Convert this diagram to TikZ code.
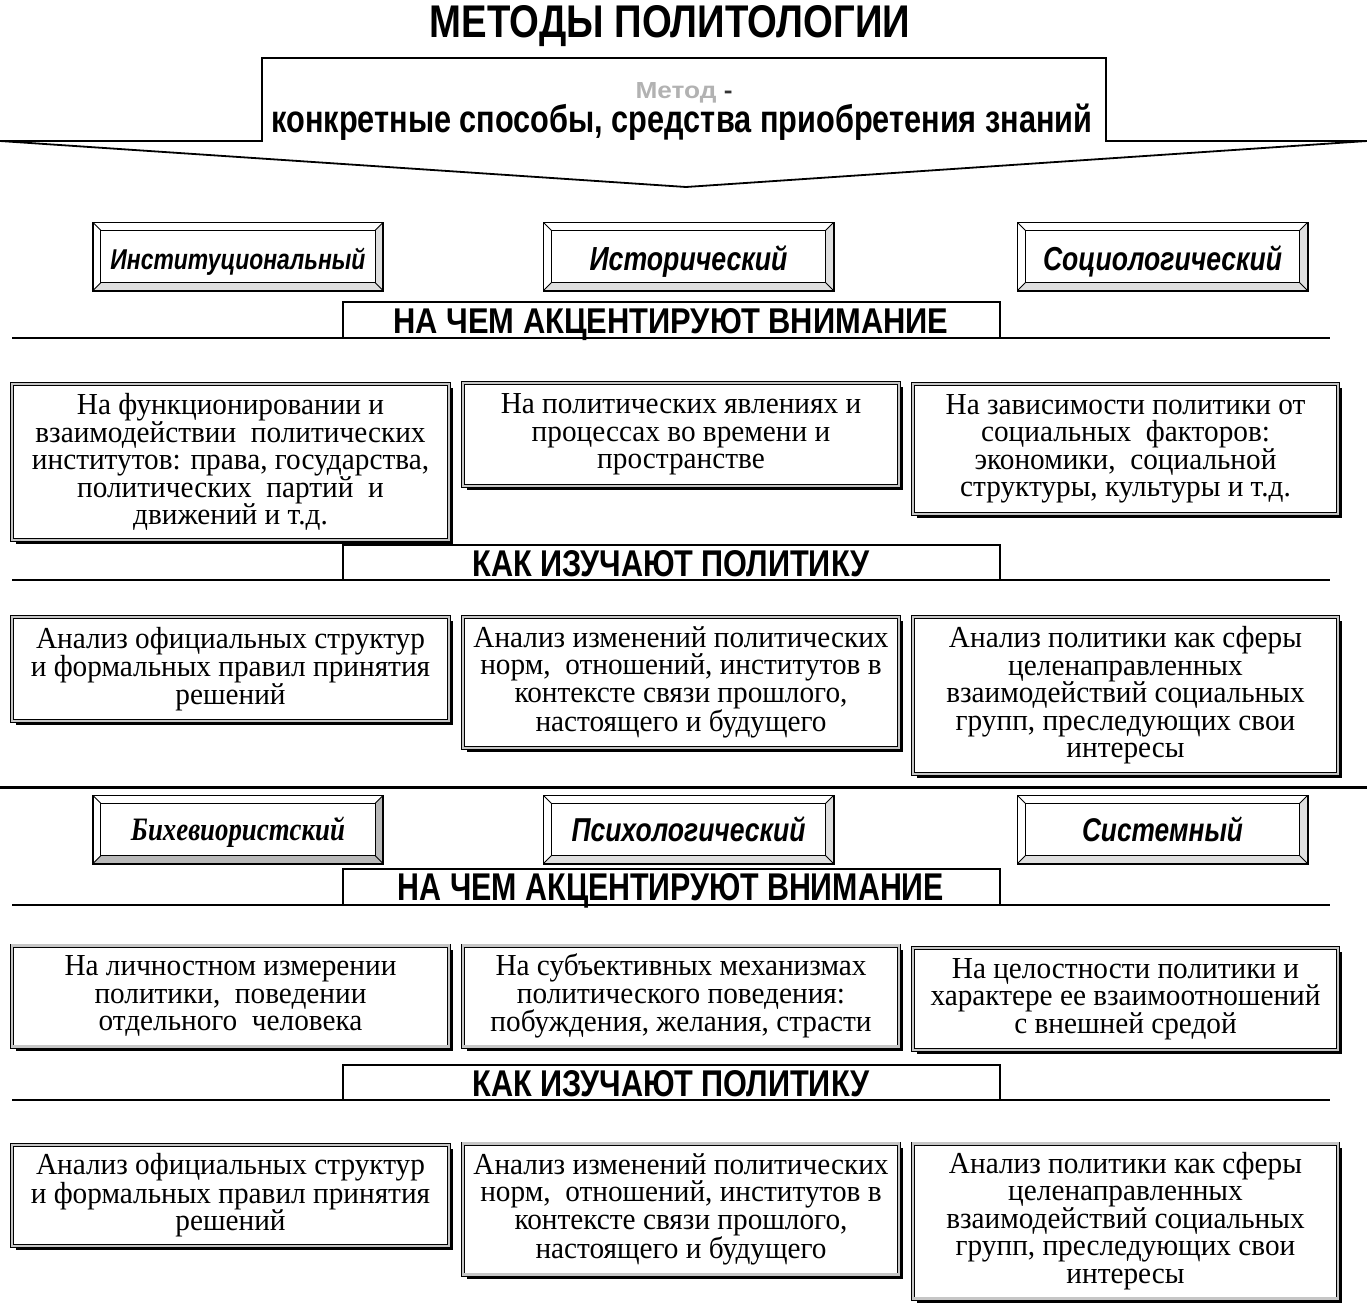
\documentclass[tikz,border=0pt]{standalone}
\usepackage{fontspec}
\usepackage{graphicx}
\setmainfont[FakeStretch=0.96]{Liberation Serif}
\newfontfamily\hfont[FakeStretch=0.8]{Liberation Sans}
\newfontfamily\snfont[FakeStretch=0.82]{Liberation Serif}
\usetikzlibrary{calc}
\newcommand\fitwh[3]{\resizebox{#1pt}{#2pt}{#3}}
\newcommand\fitw[2]{\resizebox{#1pt}{!}{#2}}
\newcommand\bevelbox[2]{%
  \coordinate (#1-a) at (#1.north west);
  \coordinate (#1-b) at (#1.north east);
  \coordinate (#1-c) at (#1.south east);
  \coordinate (#1-d) at (#1.south west);
  \coordinate (#1-ia) at ($(#1-a)+(8,8)$);
  \coordinate (#1-ib) at ($(#1-b)+(-8,8)$);
  \coordinate (#1-ic) at ($(#1-c)+(-8,-8)$);
  \coordinate (#1-id) at ($(#1-d)+(8,-8)$);
  \fill[#2] (#1-b) -- (#1-ib) -- (#1-ic) -- (#1-c) -- cycle;
  \fill[#2] (#1-d) -- (#1-id) -- (#1-ic) -- (#1-c) -- cycle;
  \draw[line width=1pt] (#1-ia) rectangle (#1-ic);
  \draw[line width=0.8pt] (#1-a) -- (#1-ia) (#1-b) -- (#1-ib) (#1-c) -- (#1-ic) (#1-d) -- (#1-id);
  \draw[line width=1.6pt] (#1-a) rectangle (#1-c);
}
\newcommand\bandtab[2]{%
  \draw[line width=1.3pt] (343,#2) -- (343,#1) -- (1000,#1) -- (1000,#2);
  \draw[line width=1.8pt] (12,#2) -- (1330,#2);
}
\tikzset{
  lbl/.style={inner sep=0pt},
  tbox/.style={draw, line width=0.9pt, double=gray!45, double distance=2.2pt,
    fill=white, inner sep=0pt, align=center,
    font=\fontsize{30.5}{27.5}\selectfont,
    preaction={fill=black, transform canvas={xshift=4pt, yshift=-4pt}}},
  mbox/.style={minimum width=290pt, minimum height=68pt, inner sep=0pt, fill=white},
}
\begin{document}
\begin{tikzpicture}[x=1pt,y=-1pt]
\useasboundingbox (0,0) rectangle (1367,1306);
% title
\node[lbl, anchor=base] (title) at (670,38) {\fitwh{480}{32}{\hfont\bfseries МЕТОДЫ ПОЛИТОЛОГИИ}};
% big arrow
\draw[line width=1.8pt, fill=white] (262,58) -- (1106,58) -- (1106,141) -- (1367,141) -- (686,187) -- (0,141) -- (262,141) -- cycle;
\node[lbl, anchor=base] (metod) at (684,98) {\fitwh{97}{16}{\hfont\bfseries\textcolor{gray!60}{Метод} \textcolor{gray!40!black}{-}}};
\node[lbl, anchor=base] (def) at (682,132) {\fitw{821}{\hfont\bfseries конкретные способы, средства приобретения знаний}};
% method boxes row 1
\node[mbox] (m1) at (238,256.5) {};
\node[mbox] (m2) at (688.5,256.5) {};
\node[mbox] (m3) at (1162.5,256.5) {};
\bevelbox{m1}{gray!25}
\bevelbox{m2}{gray!25}
\bevelbox{m3}{gray!25}
\node[lbl, anchor=base] (m1t) at (m1.center |- 0,269) {\fitw{255}{\hfont\bfseries\itshape Институциональный}};
\node[lbl, anchor=base] (m2t) at (m2.center |- 0,270) {\fitw{198}{\hfont\bfseries\itshape Исторический}};
\node[lbl, anchor=base] (m3t) at (m3.center |- 0,270) {\fitw{239}{\hfont\bfseries\itshape Социологический}};
% band 1
\bandtab{302}{338}
\node[lbl, anchor=base] (h1) at (671,333) {\fitwh{555}{25}{\hfont\bfseries НА ЧЕМ АКЦЕНТИРУЮТ ВНИМАНИЕ}};
% row A
\node[tbox, minimum width=437pt, minimum height=156pt] (a1) at (230.5,462) {На функционировании и\\взаимодействии~ политических\\институтов: права, государства,\\политических~ партий~ и\\движений и т.д.};
\node[tbox, minimum width=436pt, minimum height=103pt] (a2) at (681,434.5) {На политических явлениях и\\процессах во времени и\\пространстве};
\node[tbox, minimum width=425pt, minimum height=130pt] (a3) at (1125.5,449) {На зависимости политики от\\социальных~ факторов:\\экономики,~ социальной\\структуры, культуры и т.д.};
% band 2
\bandtab{545}{580}
\node[lbl, anchor=base] (h2) at (671,576) {\fitwh{397}{26}{\hfont\bfseries КАК ИЗУЧАЮТ ПОЛИТИКУ}};
% row B
\node[tbox, minimum width=437pt, minimum height=104pt] (b1) at (230.5,669) {Анализ официальных структур\\и формальных правил принятия\\решений};
\node[tbox, minimum width=436pt, minimum height=131pt] (b2) at (681,682.5) {Анализ изменений политических\\норм,~ отношений, институтов в\\контексте связи прошлого,\\настоящего и будущего};
\node[tbox, minimum width=425pt, minimum height=157pt] (b3) at (1125.5,695.5) {Анализ политики как сферы\\целенаправленных\\взаимодействий социальных\\групп, преследующих свои\\интересы};
% separator
\draw[line width=3pt] (0,787) -- (1367,787);
% method boxes row 2
\node[mbox] (m4) at (238,829.5) {};
\node[mbox] (m5) at (688.5,829.5) {};
\node[mbox] (m6) at (1162.5,829.5) {};
\bevelbox{m4}{gray!55}
\bevelbox{m5}{gray!25}
\bevelbox{m6}{gray!25}
\node[lbl, anchor=base] (m4t) at (m4.center |- 0,840) {\fitw{214}{\snfont\bfseries\itshape Бихевиористский}};
\node[lbl, anchor=base] (m5t) at (m5.center |- 0,841) {\fitw{234}{\hfont\bfseries\itshape Психологический}};
\node[lbl, anchor=base] (m6t) at (m6.center |- 0,841) {\fitw{161}{\hfont\bfseries\itshape Системный}};
% band 3
\bandtab{869}{905}
\node[lbl, anchor=base] (h3) at (671,900) {\fitwh{546}{27}{\hfont\bfseries НА ЧЕМ АКЦЕНТИРУЮТ ВНИМАНИЕ}};
% row C
\node[tbox, minimum width=437pt, minimum height=101pt] (c1) at (230.5,996) {На личностном измерении\\политики,~ поведении\\отдельного~ человека};
\node[tbox, minimum width=436pt, minimum height=101pt] (c2) at (681,996) {На субъективных механизмах\\политического поведения:\\побуждения, желания, страсти};
\node[tbox, minimum width=425pt, minimum height=102pt] (c3) at (1125.5,999) {На целостности политики и\\характере ее взаимоотношений\\с внешней средой};
% band 4
\bandtab{1065}{1100}
\node[lbl, anchor=base] (h4) at (671,1096) {\fitwh{397}{26}{\hfont\bfseries КАК ИЗУЧАЮТ ПОЛИТИКУ}};
% row D
\node[tbox, minimum width=437pt, minimum height=101pt] (d1) at (230.5,1195.5) {Анализ официальных структур\\и формальных правил принятия\\решений};
\node[tbox, minimum width=436pt, minimum height=131pt] (d2) at (681,1209) {Анализ изменений политических\\норм,~ отношений, институтов в\\контексте связи прошлого,\\настоящего и будущего};
\node[tbox, minimum width=425pt, minimum height=155pt] (d3) at (1125.5,1221) {Анализ политики как сферы\\целенаправленных\\взаимодействий социальных\\групп, преследующих свои\\интересы};
\end{tikzpicture}
\end{document}
